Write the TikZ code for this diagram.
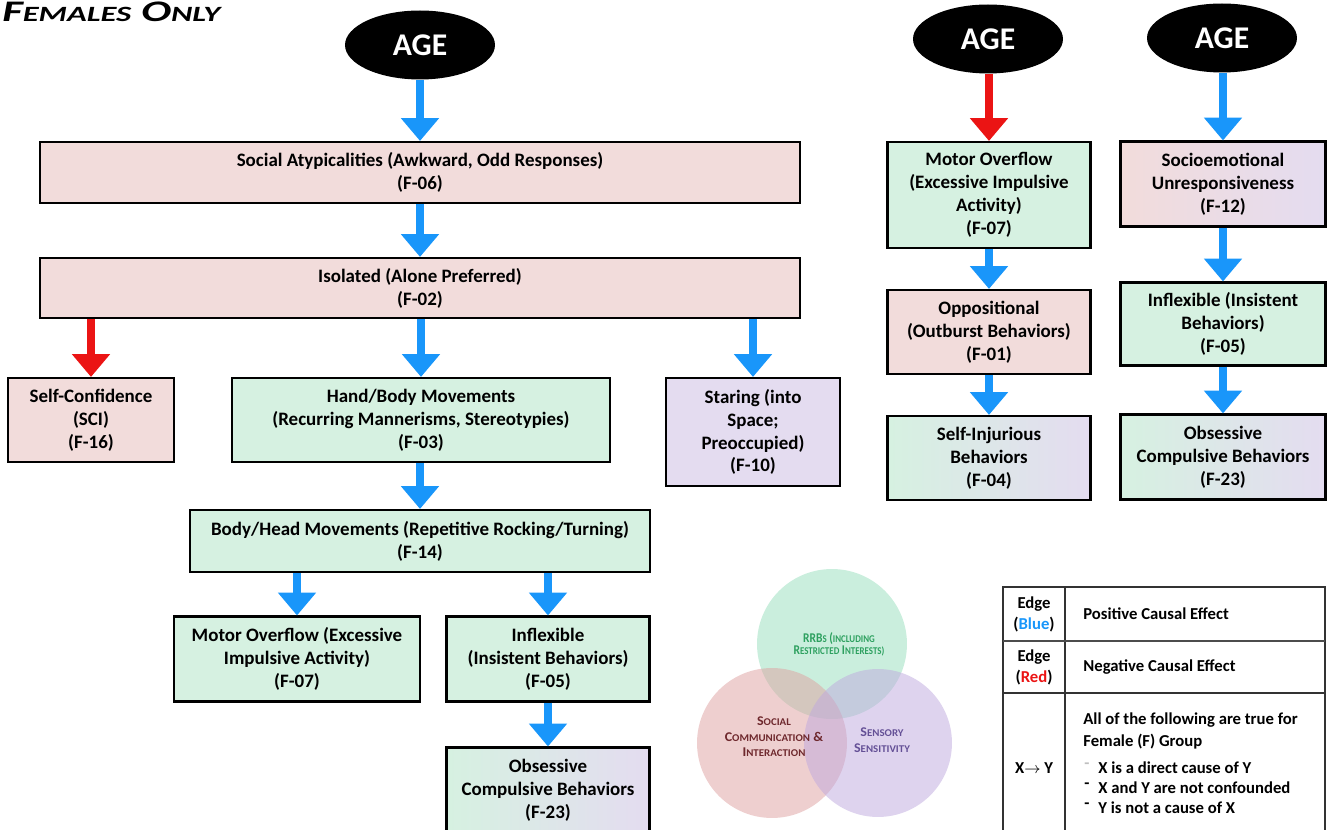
\documentclass[tikz,border=0pt]{standalone}
\usepackage{fontspec}
\setmainfont{Carlito}
\usetikzlibrary{shapes.geometric,arrows.meta}
\definecolor{pinkbox}{RGB}{242,220,219}
\definecolor{greenbox}{RGB}{214,241,225}
\definecolor{purplebox}{RGB}{228,220,240}
\definecolor{edgeblue}{RGB}{25,150,250}
\definecolor{edgered}{RGB}{235,20,20}
\definecolor{rrbcircle}{RGB}{150,222,188}
\definecolor{soccircle}{RGB}{222,160,160}
\definecolor{senscircle}{RGB}{190,168,222}
\definecolor{rrbtext}{RGB}{45,160,95}
\definecolor{soctext}{RGB}{110,40,45}
\definecolor{senstext}{RGB}{100,80,150}
\newcommand{\fakesc}[2]{#1{\fontsize{5.9}{6}\selectfont #2}}
\newcommand{\venntext}[3]{\scalebox{#1}[1]{\bfseries\fontsize{7.6}{#2}\selectfont\begin{tabular}{@{}c@{}}#3\end{tabular}}}

\begin{document}
\begin{tikzpicture}[x=0.02cm, y=-0.02cm,
     factor/.style={draw=black, line width=1.2pt, inner sep=0pt, align=center,
                    font=\fontsize{10.8}{13}\selectfont\bfseries},
     socialbox/.style={factor, fill=pinkbox},
     rrbbox/.style={factor, fill=greenbox},
     sensorybox/.style={factor, fill=purplebox},
     rrbsensbox/.style={factor, left color=greenbox, right color=purplebox},
     socsensbox/.style={factor, left color=pinkbox, right color=purplebox},
     agenode/.style={shape=ellipse, fill=black, text=white, minimum width=3cm,
                     minimum height=1.38cm, inner sep=0pt, font=\fontsize{18}{20}\selectfont\bfseries},
     posedge/.style={draw=edgeblue, line width=5pt, -{Triangle[width=21pt,length=13pt]}},
     negedge/.style={posedge, draw=edgered},
     legendtext/.style={inner sep=0pt, font=\fontsize{9.5}{12}\selectfont\bfseries}
]
\useasboundingbox (0,0) rectangle (1330,830);

\node (title) [anchor=base west, inner sep=0pt] at (2,22)
     {\resizebox{4.36cm}{\height}{\bfseries\itshape\fontsize{17}{18}\selectfont F{\fontsize{12.4}{14}\selectfont EMALES} O{\fontsize{12.4}{14}\selectfont NLY}}};

% age roots
\path ( 420, 45) node [agenode] (age1) {AGE}
      ( 988, 39) node [agenode] (age2) {AGE}
      (1222, 38) node [agenode] (age3) {AGE}
;

% left graph
\path ( 420,172.5) node [socialbox, minimum width=15.2cm, minimum height=1.22cm] (soc06)
           {Social Atypicalities (Awkward, Odd Responses)\\(F-06)}
      ( 420,288) node [socialbox, minimum width=15.2cm, minimum height=1.2cm] (iso02)
           {Isolated (Alone Preferred)\\(F-02)}
      (  91,420) node [socialbox, minimum width=3.32cm, minimum height=1.68cm] (sci16)
           {Self-Confidence\\(SCI)\\(F-16)}
      ( 421,420) node [rrbbox, minimum width=7.56cm, minimum height=1.68cm] (hand03)
           {Hand/Body Movements\\(Recurring Mannerisms, Stereotypies)\\(F-03)}
      ( 753,432) node [sensorybox, minimum width=3.48cm, minimum height=2.16cm] (star10)
           {Staring (into\\Space;\\Preoccupied)\\(F-10)}
      ( 420,541) node [rrbbox, minimum width=9.2cm, minimum height=1.24cm] (body14)
           {Body/Head Movements (Repetitive Rocking/Turning)\\(F-14)}
      ( 297,659) node [rrbbox, minimum width=4.92cm, minimum height=1.7cm] (motor07a)
           {Motor Overflow (Excessive\\Impulsive Activity)\\(F-07)}
      ( 548,659) node [rrbbox, minimum width=4.06cm, minimum height=1.7cm] (infl05a)
           {Inflexible\\(Insistent Behaviors)\\(F-05)}
      ( 548,790) node [rrbsensbox, minimum width=4.06cm, minimum height=1.7cm] (obs23a)
           {Obsessive\\Compulsive Behaviors\\(F-23)}
;

% right graphs
\path ( 989,195) node [rrbbox, minimum width=4.06cm, minimum height=2.12cm] (motor07b)
           {Motor Overflow\\(Excessive Impulsive\\Activity)\\(F-07)}
      ( 989,332) node [socialbox, minimum width=4.06cm, minimum height=1.68cm] (opp01)
           {Oppositional\\(Outburst Behaviors)\\(F-01)}
      ( 989,458) node [rrbsensbox, minimum width=4.06cm, minimum height=1.68cm] (inj04)
           {Self-Injurious\\Behaviors\\(F-04)}
      (1223,184) node [socsensbox, minimum width=4.1cm, minimum height=1.7cm] (socio12)
           {Socioemotional\\Unresponsiveness\\(F-12)}
      (1223,324) node [rrbbox, minimum width=4.1cm, minimum height=1.66cm] (infl05b)
           {Inflexible (Insistent\\Behaviors)\\(F-05)}
      (1223,457) node [rrbsensbox, minimum width=4.1cm, minimum height=1.7cm] (obs23b)
           {Obsessive\\Compulsive Behaviors\\(F-23)}
;

\draw [posedge] (age1) -- (soc06);
\draw [posedge] (soc06) -- (iso02);
\draw [negedge] (iso02.south -| sci16.north) -- (sci16.north);
\draw [posedge] (iso02.south -| hand03.north) -- (hand03.north);
\draw [posedge] (iso02.south -| star10.north) -- (star10.north);
\draw [posedge] (hand03.south -| body14.north) -- (body14.north);
\draw [posedge] (body14.south -| motor07a.north) -- (motor07a.north);
\draw [posedge] (body14.south -| infl05a.north) -- (infl05a.north);
\draw [posedge] (infl05a) -- (obs23a);

\draw [negedge] (age2.south -| motor07b.north) -- (motor07b.north);
\draw [posedge] (motor07b) -- (opp01);
\draw [posedge] (opp01) -- (inj04);
\draw [posedge] (age3.south -| socio12.north) -- (socio12.north);
\draw [posedge] (socio12) -- (infl05b);
\draw [posedge] (infl05b) -- (obs23b);

% venn of domains
\fill [rrbcircle, fill opacity=0.5] (832,644) circle [radius=1.5cm];
\fill [soccircle, fill opacity=0.5] (772,743) circle [radius=1.5cm];
\fill [senscircle, fill opacity=0.5] (878,743) circle [radius=1.48cm];
\node (rrbs) [text=rrbtext, inner sep=0pt] at (839,645)
     {\venntext{0.86}{6.4}{\fakesc{RRB}{S} \fakesc{(}{INCLUDING}\\\fakesc{R}{ESTRICTED} \fakesc{I}{NTERESTS)}}};
\node (social) [text=soctext, inner sep=0pt] at (774,738)
     {\venntext{1.05}{9}{\fakesc{S}{OCIAL}\\\fakesc{C}{OMMUNICATION} \&\\\fakesc{I}{NTERACTION}}};
\node (sensory) [text=senstext, inner sep=0pt] at (882,741)
     {\venntext{1.05}{9.4}{\fakesc{S}{ENSORY}\\\fakesc{S}{ENSITIVITY}}};

% legend
\draw [line width=0.8pt, black!80] (1003,587) rectangle (1325,840);
\draw [line width=0.8pt, black!80] (1065,587) -- (1065,840);
\draw [line width=0.8pt, black!70] (1003,641) -- (1325,641);
\draw [line width=1.3pt, black!80] (1003,693) -- (1325,693);
\path (1034,614) node [legendtext, align=center] (edgeblue) {Edge\\(\textcolor{edgeblue}{Blue})}
      (1083,614) node [legendtext, anchor=west] (postext) {Positive Causal Effect}
      (1034,667) node [legendtext, align=center] (edgered) {Edge\\(\textcolor{edgered}{Red})}
      (1083,667) node [legendtext, anchor=west] (negtext) {Negative Causal Effect}
      (1034,768) node [legendtext] (xy) {X$\rightarrow$ Y}
      (1083,720) node [legendtext, anchor=west] (rule1) {All of the following are true for}
      (1083,742) node [legendtext, anchor=west] (rule2) {Female (F) Group}
      (1098,768) node [legendtext, anchor=west] (rule3) {X is a direct cause of Y}
      (1098,788) node [legendtext, anchor=west] (rule4) {X and Y are not confounded}
      (1098,808) node [legendtext, anchor=west] (rule5) {Y is not a cause of X}
      (1087,766) node [legendtext, text=black!25] (dash3) {-}
      (1087,786) node [legendtext] (dash4) {-}
      (1087,806) node [legendtext] (dash5) {-}
;
\end{tikzpicture}
\end{document}
